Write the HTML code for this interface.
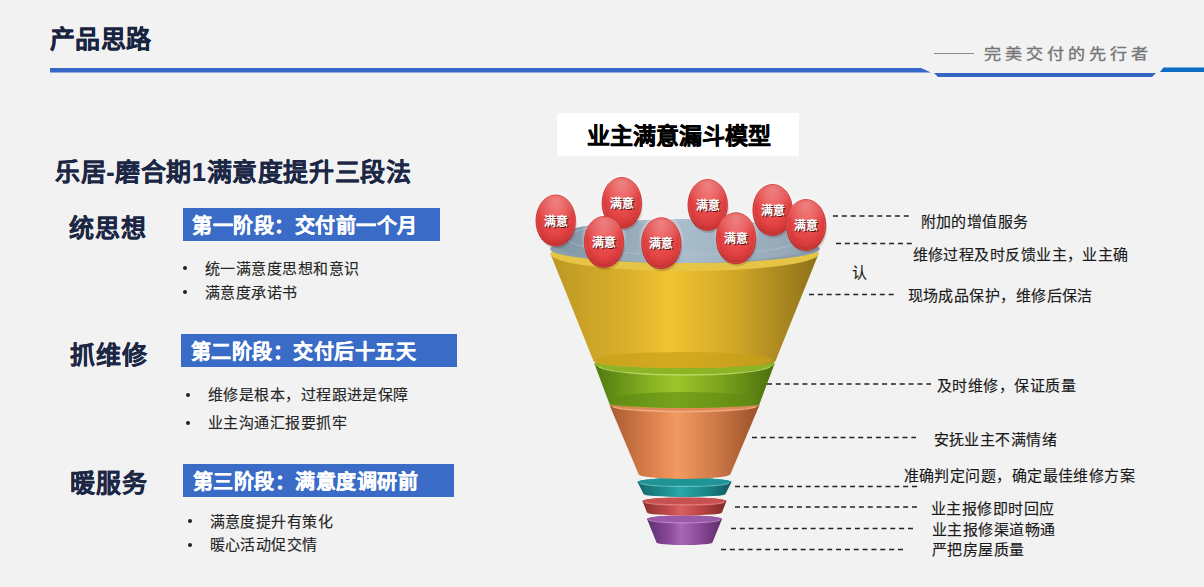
<!DOCTYPE html>
<html lang="zh-CN"><head><meta charset="utf-8">
<style>
html,body{margin:0;padding:0;}
body{width:1204px;height:587px;overflow:hidden;background:#f2f2f2;position:relative;font-family:"Liberation Sans",sans-serif;}
.a{position:absolute;white-space:nowrap;line-height:1;}
.h1{-webkit-text-stroke:0.2px #18233f;left:50px;top:26.5px;font-size:25px;letter-spacing:0.25px;font-weight:900;color:#18233f;}
.slogan{left:983.5px;top:45.5px;font-size:15px;color:#777;letter-spacing:3.4px;transform:scale(1.14,0.98);transform-origin:0 0;-webkit-text-stroke:0.35px #777;}
.sub{-webkit-text-stroke:0.2px #1b2744;left:55px;top:159.5px;font-size:25px;letter-spacing:0.62px;font-weight:900;color:#1b2744;}
.k{-webkit-text-stroke:0.2px #1b2744;font-size:25px;letter-spacing:1px;font-weight:900;color:#1b2744;}
.box{-webkit-text-stroke:0.3px #fff;position:absolute;background:#3a6bc6;color:#fff;font-size:20px;letter-spacing:0.55px;font-weight:bold;line-height:33px;height:33px;white-space:nowrap;}
.t{-webkit-text-stroke:0.15px #262626;font-size:15px;letter-spacing:0.45px;color:#262626;}
.dot{position:absolute;width:4px;height:4px;border-radius:50%;background:#222;}
.lbl{-webkit-text-stroke:0.15px #1a1a1a;font-size:15px;letter-spacing:0.45px;color:#1a1a1a;}
.ttl{position:absolute;left:557px;top:113px;width:242px;height:43px;background:#fff;}
.ttl span{-webkit-text-stroke:0.4px #000;position:absolute;left:30px;top:11.5px;font-size:23px;font-weight:bold;color:#000;line-height:1;white-space:nowrap;}
.egg{font-family:"Liberation Serif",serif;font-size:12px;font-weight:bold;fill:#fff;}
.eggs{fill:#3a0808;opacity:0.85;}
</style></head>
<body>
<div class="a h1">产品思路</div>
<div class="a slogan">完美交付的先行者</div>
<svg class="a" style="left:0;top:0" width="1204" height="587">
  <line x1="934" y1="53.5" x2="974" y2="53.5" stroke="#8a8a8a" stroke-width="1.2"/>
  <polygon points="50,68 921,68 931,72.5 50,72.5" fill="#3467c8"/>
  <polygon points="934,73 1156,73 1152,77 938,77" fill="#3366c4"/>
  <polygon points="1163.5,67.5 1204,67.5 1204,72 1160,72" fill="#0a6cc2"/>
</svg>

<div class="a sub">乐居-磨合期1满意度提升三段法</div>

<div class="a k" style="left:69px;top:215.5px">统思想</div>
<div class="box" style="left:183px;top:208px;width:257px;"><span style="position:absolute;left:9px;top:2px;">第一阶段：交付前一个月</span></div>
<div class="dot" style="left:183px;top:266px"></div>
<div class="a t" style="left:205px;top:260.5px">统一满意度思想和意识</div>
<div class="dot" style="left:183px;top:290px"></div>
<div class="a t" style="left:205px;top:284.5px">满意度承诺书</div>

<div class="a k" style="left:69.5px;top:342.5px">抓维修</div>
<div class="box" style="left:181px;top:334px;width:276px;"><span style="position:absolute;left:9.5px;top:2px;">第二阶段：交付后十五天</span></div>
<div class="dot" style="left:186px;top:393px"></div>
<div class="a t" style="left:208px;top:387px">维修是根本，过程跟进是保障</div>
<div class="dot" style="left:186px;top:421px"></div>
<div class="a t" style="left:208px;top:415px">业主沟通汇报要抓牢</div>

<div class="a k" style="left:70px;top:470.5px">暖服务</div>
<div class="box" style="left:183px;top:464px;width:271px;"><span style="position:absolute;left:9.5px;top:2px;">第三阶段：满意度调研前</span></div>
<div class="dot" style="left:188px;top:519px"></div>
<div class="a t" style="left:209.5px;top:513.5px">满意度提升有策化</div>
<div class="dot" style="left:188px;top:543px"></div>
<div class="a t" style="left:209.5px;top:537px">暖心活动促交情</div>

<div class="ttl"><span>业主满意漏斗模型</span></div>

<!-- funnel placeholder -->
<svg class="a" style="left:0;top:0" width="1204" height="587" id="fun">
<linearGradient id="gp" x1="647.0" y1="0" x2="722.0" y2="0" gradientUnits="userSpaceOnUse"><stop offset="0" stop-color="#5e2f6e"/><stop offset="0.3" stop-color="#8a4a9a"/><stop offset="0.45" stop-color="#a868b5"/><stop offset="0.7" stop-color="#8a4a98"/><stop offset="1" stop-color="#5a2c68"/></linearGradient>
<path d="M647.0,519.0 L656.5,542.5 A28,2.6 0 0 0 712.5,542.5 L722.0,519.0 A37.5,3.5 0 0 0 647.0,519.0 Z" fill="url(#gp)"/>
<ellipse cx="684.5" cy="519" rx="37.5" ry="3.5" fill="#9a5aa8" opacity="1"/>
<path d="M648.9,520.0 A36.375,3.5 0 0 0 720.1,520.0" fill="none" stroke="#c898d0" stroke-width="1.2" opacity="0.7"/>
<linearGradient id="gr" x1="642.5" y1="0" x2="726.5" y2="0" gradientUnits="userSpaceOnUse"><stop offset="0" stop-color="#8a3030"/><stop offset="0.3" stop-color="#c04848"/><stop offset="0.45" stop-color="#d86060"/><stop offset="0.7" stop-color="#bb4444"/><stop offset="1" stop-color="#7e2a2a"/></linearGradient>
<path d="M642.5,501.0 L647.0,512.5 A37.5,3 0 0 0 722.0,512.5 L726.5,501.0 A42,3.5 0 0 0 642.5,501.0 Z" fill="url(#gr)"/>
<ellipse cx="684.5" cy="501" rx="42" ry="3.5" fill="#c85050" opacity="1"/>
<path d="M644.6,502.1 A40.74,3.5 0 0 0 724.4,502.1" fill="none" stroke="#f09090" stroke-width="1.2" opacity="0.7"/>
<linearGradient id="gt" x1="637.5" y1="0" x2="731.5" y2="0" gradientUnits="userSpaceOnUse"><stop offset="0" stop-color="#14666a"/><stop offset="0.3" stop-color="#1e8f92"/><stop offset="0.45" stop-color="#2aa8aa"/><stop offset="0.7" stop-color="#1c8a8c"/><stop offset="1" stop-color="#0f5a5e"/></linearGradient>
<path d="M637.5,482.0 L643.5,494.0 A41,3 0 0 0 725.5,494.0 L731.5,482.0 A47,4 0 0 0 637.5,482.0 Z" fill="url(#gt)"/>
<ellipse cx="684.5" cy="482" rx="47" ry="4" fill="#1f9496" opacity="1"/>
<path d="M639.9,483.2 A45.589999999999996,4 0 0 0 729.1,483.2" fill="none" stroke="#7fd0d0" stroke-width="1.2" opacity="0.7"/>
<linearGradient id="go" x1="609.5" y1="0" x2="759.5" y2="0" gradientUnits="userSpaceOnUse"><stop offset="0" stop-color="#a85a30"/><stop offset="0.3" stop-color="#e08450"/><stop offset="0.45" stop-color="#f29a62"/><stop offset="0.7" stop-color="#d07a48"/><stop offset="1" stop-color="#9a5028"/></linearGradient>
<path d="M609.5,405.0 L638.5,474.0 A46,5 0 0 0 730.5,474.0 L759.5,405.0 A75,6 0 0 0 609.5,405.0 Z" fill="url(#go)"/>
<ellipse cx="684.5" cy="405" rx="75" ry="6" fill="#e08a58" opacity="1"/>
<path d="M613.2,406.8 A72.75,6 0 0 0 755.8,406.8" fill="none" stroke="#f8b890" stroke-width="1.3" opacity="0.8"/>
<linearGradient id="ggr" x1="594.5" y1="0" x2="774.5" y2="0" gradientUnits="userSpaceOnUse"><stop offset="0" stop-color="#4f7a10"/><stop offset="0.3" stop-color="#86b020"/><stop offset="0.45" stop-color="#9cc42a"/><stop offset="0.7" stop-color="#7ca41c"/><stop offset="1" stop-color="#4a700e"/></linearGradient>
<path d="M594.5,364.0 L609.5,404.0 A75,4 0 0 0 759.5,404.0 L774.5,364.0 A90,10 0 0 0 594.5,364.0 Z" fill="url(#ggr)"/>
<ellipse cx="684.5" cy="400" rx="73" ry="8" fill="#5e8a12" opacity="0.6"/>
<ellipse cx="684.5" cy="364" rx="90" ry="10" fill="#8cb424" opacity="1"/>
<path d="M599.0,367.0 A87.3,10 0 0 0 770.0,367.0" fill="none" stroke="#c0e070" stroke-width="1.3" opacity="0.8"/>
<linearGradient id="gy" x1="550.5" y1="0" x2="818.5" y2="0" gradientUnits="userSpaceOnUse"><stop offset="0" stop-color="#bc9822"/><stop offset="0.3" stop-color="#dcb02c"/><stop offset="0.45" stop-color="#f0c430"/><stop offset="0.7" stop-color="#cfa428"/><stop offset="1" stop-color="#8c7018"/></linearGradient>
<path d="M550.5,254.0 L593.5,361.0 A91,7 0 0 0 775.5,361.0 L818.5,254.0 A134,17 0 0 0 550.5,254.0 Z" fill="url(#gy)"/>
<ellipse cx="684.5" cy="360" rx="88" ry="8" fill="#c8a018" opacity="0.7"/>
<ellipse cx="684.5" cy="254" rx="134" ry="17" fill="#e6c445" opacity="1"/>
<linearGradient id="gd" x1="549" y1="0" x2="821" y2="0" gradientUnits="userSpaceOnUse"><stop offset="0" stop-color="#7d93a3"/><stop offset="0.5" stop-color="#a9bccb"/><stop offset="1" stop-color="#8ea2b0"/></linearGradient>
<ellipse cx="685" cy="249" rx="135" ry="14" fill="#8b9faf"/>
<ellipse cx="685" cy="241" rx="136" ry="22" fill="url(#gd)"/>
<ellipse cx="685" cy="238" rx="118" ry="17" fill="none" stroke="#b8c8d4" stroke-width="1" opacity="0.5"/>
<radialGradient id="ge" cx="0.5" cy="0.42" r="0.58"><stop offset="0" stop-color="#ee5a5a"/><stop offset="0.6" stop-color="#e44444"/><stop offset="0.86" stop-color="#d23838"/><stop offset="0.95" stop-color="#b82828"/><stop offset="1" stop-color="#c04040"/></radialGradient>
<radialGradient id="gh" cx="0.5" cy="0.15" r="0.75"><stop offset="0" stop-color="#fff" stop-opacity="0.32"/><stop offset="1" stop-color="#fff" stop-opacity="0"/></radialGradient>
<radialGradient id="gw" cx="0.5" cy="0.5" r="0.5"><stop offset="0.6" stop-color="#fff" stop-opacity="0.8"/><stop offset="1" stop-color="#fff" stop-opacity="0"/></radialGradient>
<ellipse cx="621.8" cy="199" rx="23" ry="27" fill="url(#gw)"/><ellipse cx="707.7" cy="201" rx="23" ry="27" fill="url(#gw)"/><ellipse cx="772.6" cy="206" rx="23" ry="27" fill="url(#gw)"/><ellipse cx="555.7" cy="216.6" rx="23" ry="27" fill="url(#gw)"/><ellipse cx="806" cy="221" rx="23" ry="27" fill="url(#gw)"/><ellipse cx="736" cy="234.2" rx="23" ry="27" fill="url(#gw)"/><ellipse cx="604" cy="238" rx="23" ry="27" fill="url(#gw)"/><ellipse cx="661.3" cy="239.3" rx="23" ry="27" fill="url(#gw)"/><ellipse cx="622.8" cy="206" rx="20" ry="25" fill="#501010" opacity="0.18"/><ellipse cx="621.8" cy="203" rx="20.2" ry="26" fill="url(#ge)"/><ellipse cx="621.8" cy="193" rx="17" ry="15" fill="url(#gh)"/><ellipse cx="621.8" cy="203" rx="18.6" ry="24.4" fill="none" stroke="#f07070" stroke-width="0.8" opacity="0.45"/><text x="622.8" y="209" text-anchor="middle" class="egg eggs">满意</text><text x="621.8" y="208" text-anchor="middle" class="egg">满意</text><ellipse cx="708.7" cy="208" rx="20" ry="25" fill="#501010" opacity="0.18"/><ellipse cx="707.7" cy="205" rx="20.2" ry="26" fill="url(#ge)"/><ellipse cx="707.7" cy="195" rx="17" ry="15" fill="url(#gh)"/><ellipse cx="707.7" cy="205" rx="18.6" ry="24.4" fill="none" stroke="#f07070" stroke-width="0.8" opacity="0.45"/><text x="708.7" y="211" text-anchor="middle" class="egg eggs">满意</text><text x="707.7" y="210" text-anchor="middle" class="egg">满意</text><ellipse cx="773.6" cy="213" rx="20" ry="25" fill="#501010" opacity="0.18"/><ellipse cx="772.6" cy="210" rx="20.2" ry="26" fill="url(#ge)"/><ellipse cx="772.6" cy="200" rx="17" ry="15" fill="url(#gh)"/><ellipse cx="772.6" cy="210" rx="18.6" ry="24.4" fill="none" stroke="#f07070" stroke-width="0.8" opacity="0.45"/><text x="773.6" y="216" text-anchor="middle" class="egg eggs">满意</text><text x="772.6" y="215" text-anchor="middle" class="egg">满意</text><ellipse cx="556.7" cy="223.6" rx="20" ry="25" fill="#501010" opacity="0.18"/><ellipse cx="555.7" cy="220.6" rx="20.2" ry="26" fill="url(#ge)"/><ellipse cx="555.7" cy="210.6" rx="17" ry="15" fill="url(#gh)"/><ellipse cx="555.7" cy="220.6" rx="18.6" ry="24.4" fill="none" stroke="#f07070" stroke-width="0.8" opacity="0.45"/><text x="556.7" y="226.6" text-anchor="middle" class="egg eggs">满意</text><text x="555.7" y="225.6" text-anchor="middle" class="egg">满意</text><ellipse cx="807" cy="228" rx="20" ry="25" fill="#501010" opacity="0.18"/><ellipse cx="806" cy="225" rx="20.2" ry="26" fill="url(#ge)"/><ellipse cx="806" cy="215" rx="17" ry="15" fill="url(#gh)"/><ellipse cx="806" cy="225" rx="18.6" ry="24.4" fill="none" stroke="#f07070" stroke-width="0.8" opacity="0.45"/><text x="807" y="231" text-anchor="middle" class="egg eggs">满意</text><text x="806" y="230" text-anchor="middle" class="egg">满意</text><ellipse cx="737" cy="241.2" rx="20" ry="25" fill="#501010" opacity="0.18"/><ellipse cx="736" cy="238.2" rx="20.2" ry="26" fill="url(#ge)"/><ellipse cx="736" cy="228.2" rx="17" ry="15" fill="url(#gh)"/><ellipse cx="736" cy="238.2" rx="18.6" ry="24.4" fill="none" stroke="#f07070" stroke-width="0.8" opacity="0.45"/><text x="737" y="244.2" text-anchor="middle" class="egg eggs">满意</text><text x="736" y="243.2" text-anchor="middle" class="egg">满意</text><ellipse cx="605" cy="245" rx="20" ry="25" fill="#501010" opacity="0.18"/><ellipse cx="604" cy="242" rx="20.2" ry="26" fill="url(#ge)"/><ellipse cx="604" cy="232" rx="17" ry="15" fill="url(#gh)"/><ellipse cx="604" cy="242" rx="18.6" ry="24.4" fill="none" stroke="#f07070" stroke-width="0.8" opacity="0.45"/><text x="605" y="248" text-anchor="middle" class="egg eggs">满意</text><text x="604" y="247" text-anchor="middle" class="egg">满意</text><ellipse cx="662.3" cy="246.3" rx="20" ry="25" fill="#501010" opacity="0.18"/><ellipse cx="661.3" cy="243.3" rx="20.2" ry="26" fill="url(#ge)"/><ellipse cx="661.3" cy="233.3" rx="17" ry="15" fill="url(#gh)"/><ellipse cx="661.3" cy="243.3" rx="18.6" ry="24.4" fill="none" stroke="#f07070" stroke-width="0.8" opacity="0.45"/><text x="662.3" y="249.3" text-anchor="middle" class="egg eggs">满意</text><text x="661.3" y="248.3" text-anchor="middle" class="egg">满意</text>
</svg>

<!-- labels -->
<svg class="a" style="left:0;top:0" width="1204" height="587">
 <g stroke="#222" stroke-width="1.6" stroke-dasharray="5 3.85">
  <line x1="833" y1="216" x2="912" y2="216"/>
  <line x1="836" y1="243.5" x2="913" y2="243.5"/>
  <line x1="809" y1="294.5" x2="894" y2="294.5"/>
  <line x1="767" y1="384" x2="931" y2="384"/>
  <line x1="752" y1="437.5" x2="916" y2="437.5"/>
  <line x1="735" y1="486.5" x2="917" y2="486.5"/>
  <line x1="735" y1="507" x2="917" y2="507"/>
  <line x1="731" y1="528.5" x2="914" y2="528.5"/>
  <line x1="721" y1="549.5" x2="905" y2="549.5"/>
 </g>
</svg>
<div class="a lbl" style="left:920.5px;top:213.5px">附加的增值服务</div>
<div class="a lbl" style="left:912.5px;top:247px">维修过程及时反馈业主，业主确</div>
<div class="a lbl" style="left:852px;top:265px">认</div>
<div class="a lbl" style="left:907.5px;top:288px">现场成品保护，维修后保洁</div>
<div class="a lbl" style="left:937px;top:378px">及时维修，保证质量</div>
<div class="a lbl" style="left:933.5px;top:431.5px">安抚业主不满情绪</div>
<div class="a lbl" style="left:903.5px;top:467.5px">准确判定问题，确定最佳维修方案</div>
<div class="a lbl" style="left:931px;top:500.5px">业主报修即时回应</div>
<div class="a lbl" style="left:932px;top:521.5px">业主报修渠道畅通</div>
<div class="a lbl" style="left:932px;top:541.5px">严把房屋质量</div>
</body></html>
